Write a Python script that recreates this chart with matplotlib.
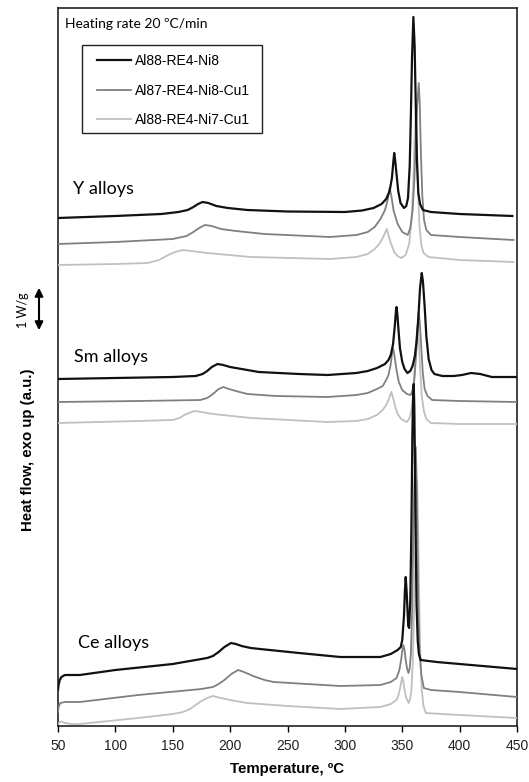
import matplotlib
matplotlib.use("Agg")
import matplotlib.pyplot as plt
from matplotlib.patches import Rectangle, FancyArrowPatch

# ---------------- data (heat flow, a.u., offset curves) ----------------
series_names = ["Al88-RE4-Ni8", "Al87-RE4-Ni8-Cu1", "Al88-RE4-Ni7-Cu1"]
series_colors = ["#111111", "#808080", "#c0c0c0"]
group_labels = ["Y alloys", "Sm alloys", "Ce alloys"]

# --- Y alloys ---
y_black_T = [50, 100, 140, 155, 163, 168, 172, 176, 181, 188, 198, 215, 250, 300, 315, 325, 332, 336, 339, 341, 342.3, 343, 343.8, 345, 346.5, 348.5, 351.5, 353.5, 355, 356.5, 357.5, 358.5, 359.7, 360.8, 361.8, 362.8, 364, 365.5, 368, 375, 400, 446]
y_black_H = [508, 510, 512, 514, 516, 519, 522, 524, 523, 520, 518, 516, 514.5, 514, 515.5, 518, 522, 527, 535, 548, 565, 573, 566, 552, 535, 523, 518, 520, 528, 560, 610, 668, 709, 680, 620, 565, 533, 522, 516, 514, 512, 510]
y_grey_T = [50, 100, 150, 162, 168, 173, 178, 184, 192, 205, 230, 287, 310, 320, 326, 331, 335, 337.5, 339, 340.5, 342.5, 346, 350, 354.8, 357, 359, 360.5, 361.8, 363, 364.4, 365.3, 366.2, 367.5, 369, 371, 375, 400, 447]
y_grey_H = [482, 484, 487, 490, 494, 498, 501, 500, 497, 495, 492, 489, 491, 494, 499, 507, 516, 527, 538, 530, 515, 502, 494, 491, 498, 515, 545, 585, 620, 643, 620, 575, 530, 506, 496, 491, 489, 486]
y_light_T = [50, 100, 128, 138, 146, 152, 159, 166, 180, 218, 287, 310, 320, 326, 330, 333, 335, 336.5, 338, 340, 343, 346, 349, 353, 356, 358, 359.5, 360.7, 361.8, 362.7, 363.8, 365, 366.5, 368.5, 373, 400, 447]
y_light_H = [461, 462, 463, 466, 471, 474, 476, 475, 473, 469, 467, 469, 472, 477, 482, 488, 493, 497, 491, 483, 474, 470, 468, 471, 482, 505, 540, 585, 614, 585, 535, 500, 482, 473, 469, 466, 464]

# --- Sm alloys ---
sm_black_T = [50, 100, 150, 170, 176, 180, 184, 189, 194, 200, 210, 225, 260, 285, 310, 320, 328, 335, 338, 340, 342, 343.5, 344.5, 345, 345.7, 346.8, 348, 350, 352, 354.5, 357, 359, 361, 362.5, 364, 365.5, 367, 368, 369.5, 371, 373, 375.5, 378, 385, 395, 402, 410, 418, 428, 450]
sm_black_H = [347, 348, 349, 350, 352, 355, 359, 362, 361, 359, 357, 354, 352, 351, 353, 355, 358, 362, 366, 371, 382, 400, 415, 419, 412, 395, 378, 364, 357, 353, 355, 360, 370, 385, 408, 438, 453, 445, 420, 390, 367, 356, 352, 350, 350, 351, 353, 352, 349, 349]
sm_grey_T = [50, 120, 174, 180, 185, 190, 194, 199, 205, 215, 240, 285, 310, 320, 328, 333, 336, 338, 340, 341, 342, 343, 345, 347, 350, 354, 357.4, 359, 360.5, 362, 363.2, 364.4, 365.5, 366.5, 368, 369.5, 372, 376, 400, 450]
sm_grey_H = [324, 325, 326, 328, 332, 337, 339, 337, 335, 332, 330, 329, 331, 333, 337, 340, 346, 351, 362, 372, 378, 372, 356, 344, 336, 332, 331, 336, 346, 370, 395, 414, 400, 380, 352, 337, 330, 326, 325, 324]
sm_light_T = [50, 120, 150, 156, 160, 164, 169, 175, 185, 218, 285, 310, 320, 328, 333, 336, 338, 339.5, 340.5, 342, 344, 346, 349, 354, 356, 358, 359.5, 361, 362.5, 363.5, 364.5, 365.5, 367, 369, 371, 375, 400, 450]
sm_light_H = [303, 305, 306, 308, 311, 313, 315, 314, 312, 308, 304, 305, 307, 311, 316, 321, 326, 331, 334, 328, 319, 312, 307, 304, 307, 315, 330, 360, 388, 401, 385, 360, 330, 314, 307, 303, 302, 302]

# --- Ce alloys ---
ce_black_T = [50, 50.5, 51.5, 53, 56, 69, 100, 150, 180, 185, 190, 195, 200.8, 205, 210, 218, 226, 260, 296, 331, 340, 346, 348.7, 350, 351.5, 352.3, 353, 353.8, 354.5, 355.2, 356, 357, 358, 358.8, 359.5, 360, 360.5, 361, 361.8, 362.5, 363.5, 364.5, 366, 380, 420, 450]
ce_black_H = [36, 41, 46, 49, 51, 51, 56, 62, 68, 70, 74, 79, 83, 82, 80, 78, 77, 73, 69, 69, 72, 76, 79, 86, 110, 135, 149, 135, 118, 100, 98, 126, 200, 290, 330, 342, 320, 270, 180, 120, 85, 72, 66, 64, 60, 57]
ce_grey_T = [50, 50.5, 52, 56, 69, 120, 175, 185, 190, 195, 201, 207, 212, 220, 230, 238, 296, 331, 340, 345, 347.5, 349, 350, 351, 352, 353, 354.3, 355.4, 356.5, 357.5, 358.5, 359.5, 360.5, 361.8, 362.5, 363.2, 364, 365, 366.5, 368.8, 375, 400, 450]
ce_grey_H = [14, 19, 23, 24, 24, 31, 37, 39, 42, 46, 52, 56, 54, 50, 46, 44, 40, 41, 44, 48, 56, 66, 75, 81, 76, 66, 57, 53, 58, 72, 110, 180, 240, 279, 250, 190, 120, 76, 52, 38, 36, 34, 29]
ce_light_T = [50, 51.5, 53, 56, 62, 69, 120, 150, 159, 165, 170, 175, 180, 185, 192, 200, 214.8, 250, 296, 331, 340, 345, 347, 348.5, 350, 351, 352, 353.5, 355.7, 357, 358, 359, 360, 361, 362, 363, 363.8, 364.5, 365.5, 367, 368.5, 370.5, 385, 400, 450]
ce_light_H = [2, 4, 4.5, 3, 2, 2, 8, 12, 14, 17, 21, 25, 28, 30, 28, 26, 23, 20, 17, 19, 22, 26, 32, 40, 49, 44, 36, 28, 23, 28, 36, 60, 100, 146, 200, 246, 200, 146, 80, 36, 20, 13, 12, 11, 8]

x_ticks = [50, 100, 150, 200, 250, 300, 350, 400, 450]

# ---------------- figure ----------------
W, H = 529, 782
fig = plt.figure(figsize=(W / 100, H / 100), dpi=100)
ax = fig.add_axes([58 / W, 1 - 726 / H, (517 - 58) / W, (726 - 8) / H])

groups = [
    [(y_black_T, y_black_H), (y_grey_T, y_grey_H), (y_light_T, y_light_H)],
    [(sm_black_T, sm_black_H), (sm_grey_T, sm_grey_H), (sm_light_T, sm_light_H)],
    [(ce_black_T, ce_black_H), (ce_grey_T, ce_grey_H), (ce_light_T, ce_light_H)],
]
widths = [1.6, 1.3, 1.3]
handles = {}
for gi, g in enumerate(groups):
    for i in (2, 1, 0):
        T, Hf = g[i]
        ln, = ax.plot(T, Hf, color=series_colors[i], lw=widths[i],
                      solid_joinstyle="round", zorder=3 - i * 0.1)
        if gi == 0:
            handles[i] = ln

ax.set_xlim(50, 450)
ax.set_ylim(0, 718)
ax.set_xticks(x_ticks)
ax.set_xticklabels([str(t) for t in x_ticks], fontsize=10, color="#222222",
                   family="Liberation Sans")
ax.set_yticks([])
ax.tick_params(axis="x", direction="out", length=4, width=1, pad=5)
for s in ax.spines.values():
    s.set_linewidth(1.2)
    s.set_color("#222222")

ax.set_xlabel("Temperature, ºC", fontsize=10.8, fontweight="bold",
              family="Liberation Sans", labelpad=7)
fig.text(28 / W, 1 - 450 / H, "Heat flow, exo up (a.u.)", rotation=90,
         fontsize=10.8, fontweight="bold", family="Liberation Sans",
         ha="center", va="center")

# group labels
label_pos = [(73, 189), (74, 357), (78, 643)]
for lab, (px, py) in zip(group_labels, label_pos):
    fig.text(px / W, 1 - py / H, lab, fontsize=13, family="Lato",
             ha="left", va="center")

fig.text(65 / W, 1 - 24 / H, "Heating rate 20 ºC/min", fontsize=10,
         family="Lato", ha="left", va="center")

# legend
leg = ax.legend([handles[0], handles[1], handles[2]], series_names,
                loc="upper left",
                bbox_to_anchor=((96.7 - 58) / 459, (726 - 54) / 718),
                frameon=False, prop={"family": "Liberation Sans", "size": 10},
                handlelength=2.5, handletextpad=0.22, labelspacing=1.12,
                borderpad=0.0, borderaxespad=0.0)
rect = Rectangle((81.7 / W, 1 - 133 / H), (262 - 81.7) / W, (133 - 45) / H,
                 transform=fig.transFigure, fill=False, edgecolor="#222222",
                 lw=1.0)
fig.patches.append(rect)

# scale bar 1 W/g
arr = FancyArrowPatch((39 / W, 1 - 285 / H), (39 / W, 1 - 333 / H),
                      transform=fig.transFigure, arrowstyle="<|-|>",
                      mutation_scale=12, lw=1.5, color="black")
fig.patches.append(arr)
fig.text(23 / W, 1 - 310 / H, "1 W/g", rotation=90, fontsize=9,
         family="Lato", ha="center", va="center")

fig.savefig("out.png", dpi=100)
